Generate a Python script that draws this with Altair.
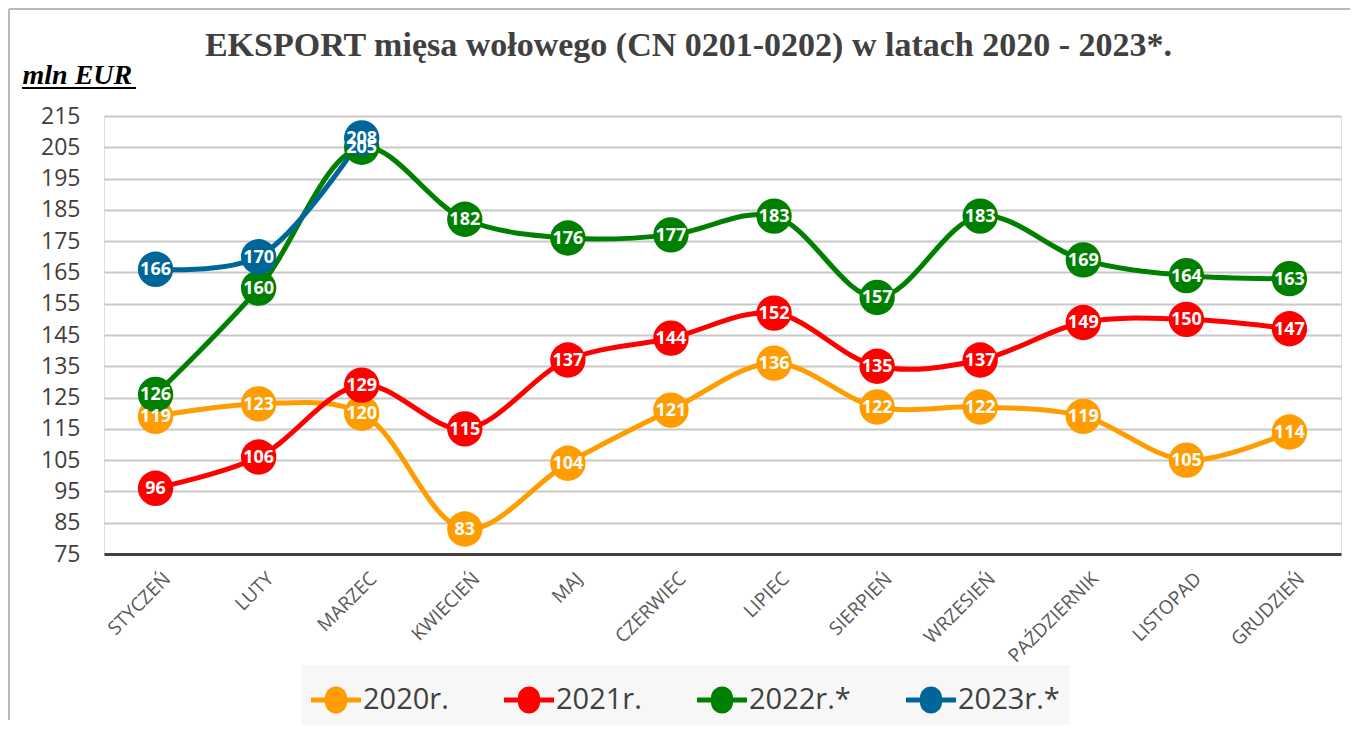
import altair as alt
import pandas as pd

months = ["STYCZEŃ", "LUTY", "MARZEC", "KWIECIEŃ", "MAJ", "CZERWIEC",
          "LIPIEC", "SIERPIEŃ", "WRZESIEŃ", "PAŹDZIERNIK", "LISTOPAD", "GRUDZIEŃ"]
years = ["2020r.", "2021r.", "2022r.*", "2023r.*"]
v2020 = [119, 123, 120, 83, 104, 121, 136, 122, 122, 119, 105, 114]
v2021 = [96, 106, 129, 115, 137, 144, 152, 135, 137, 149, 150, 147]
v2022 = [126, 160, 205, 182, 176, 177, 183, 157, 183, 169, 164, 163]
v2023 = [166, 170, 208]
y_ticks = [75, 85, 95, 105, 115, 125, 135, 145, 155, 165, 175, 185, 195, 205, 215]
colors = ["#FF9C00", "#FF0000", "#008000", "#006699"]

rows = []
for yi, (yr, vals) in enumerate(zip(years, [v2020, v2021, v2022, v2023])):
    for mi, (m, v) in enumerate(zip(months, vals)):
        rows.append({"month": m, "year": yr, "value": v, "yi": yi, "mi": mi})
df = pd.DataFrame(rows)

color_scale = alt.Scale(domain=years, range=colors)

x_enc = alt.X("month:N", sort=months, scale=alt.Scale(domain=months),
              axis=alt.Axis(title=None, labelAngle=-45, labelFont="Open Sans",
                            labelFontSize=19, labelColor="#595959", ticks=False,
                            domainColor="#404040", domainWidth=3, grid=False,
                            labelPadding=15, labelOffset=5))
y_enc = alt.Y("value:Q", scale=alt.Scale(domain=[75, 215], nice=False, zero=False),
              axis=alt.Axis(values=y_ticks, title="mln EUR", titleAngle=0,
                            titleAlign="left", titleBaseline="alphabetic",
                            titleX=-82, titleY=-33, titleFont="Liberation Serif",
                            titleFontStyle="italic", titleFontWeight="bold",
                            titleFontSize=28, titleColor="#000000",
                            labelFont="Open Sans", labelFontSize=23,
                            labelColor="#404040", labelPadding=24,
                            ticks=False, domain=False, grid=True,
                            gridColor="#c8c8c8", gridWidth=2))

legend_path = ("M-1,-0.1 L-0.44,-0.1 A0.44,0.44 0 0,1 0.44,-0.1 L1,-0.1 L1,0.1 "
               "L0.44,0.1 A0.44,0.44 0 0,1 -0.44,0.1 L-1,0.1 Z")

legend = alt.Legend(title=None, orient="none", direction="horizontal",
                    legendX=197, legendY=549,
                    symbolType=legend_path, symbolSize=2500,
                    symbolStrokeWidth=0, symbolOpacity=1,
                    labelFont="Open Sans", labelFontSize=29,
                    labelColor="#404040", labelOffset=2,
                    columnPadding=55, padding=10,
                    fillColor="#f7f7f7")

base = alt.Chart(df)

lines = base.mark_line(interpolate="catmull-rom", strokeWidth=5).encode(
    x=x_enc, y=y_enc,
    color=alt.Color("year:N", scale=color_scale, legend=legend),
    order="mi:Q",
)

points = base.mark_circle(size=1250, opacity=1).encode(
    x=x_enc, y=y_enc,
    color=alt.Color("year:N", scale=color_scale, legend=legend),
    order="yi:Q",
)

labels = base.mark_text(font="Open Sans", fontWeight="bold", fontSize=18,
                        color="white", dy=1).encode(
    x=x_enc, y=y_enc, text="value:Q"
)

one = pd.DataFrame({"u": [0]})
underline = alt.Chart(one).mark_rule(color="#000000", strokeWidth=2).encode(
    x=alt.value(-82), x2=alt.value(32), y=alt.value(-28)
)
frame_top = alt.Chart(one).mark_rule(color="#b8b8b8", strokeWidth=2).encode(
    x=alt.value(-95), x2=alt.value(1246), y=alt.value(-107)
)
frame_left = alt.Chart(one).mark_rule(color="#b8b8b8", strokeWidth=2).encode(
    x=alt.value(-95), y=alt.value(-107), y2=alt.value(604)
)

chart = alt.layer(frame_top, frame_left, lines, points, labels, underline).properties(
    width=1237, height=438,
    padding={"left": 0, "top": 0, "right": 0, "bottom": 0},
    title=alt.TitleParams("EKSPORT mięsa wołowego (CN 0201-0202) w latach 2020 - 2023*.",
                          font="Liberation Serif", fontSize=34, fontWeight="bold",
                          color="#404040", anchor="middle", dx=-34, offset=-55),
).configure_view(stroke=None).configure(background="white")

chart.save("out.html", embed_options={"renderer": "svg", "actions": False})
